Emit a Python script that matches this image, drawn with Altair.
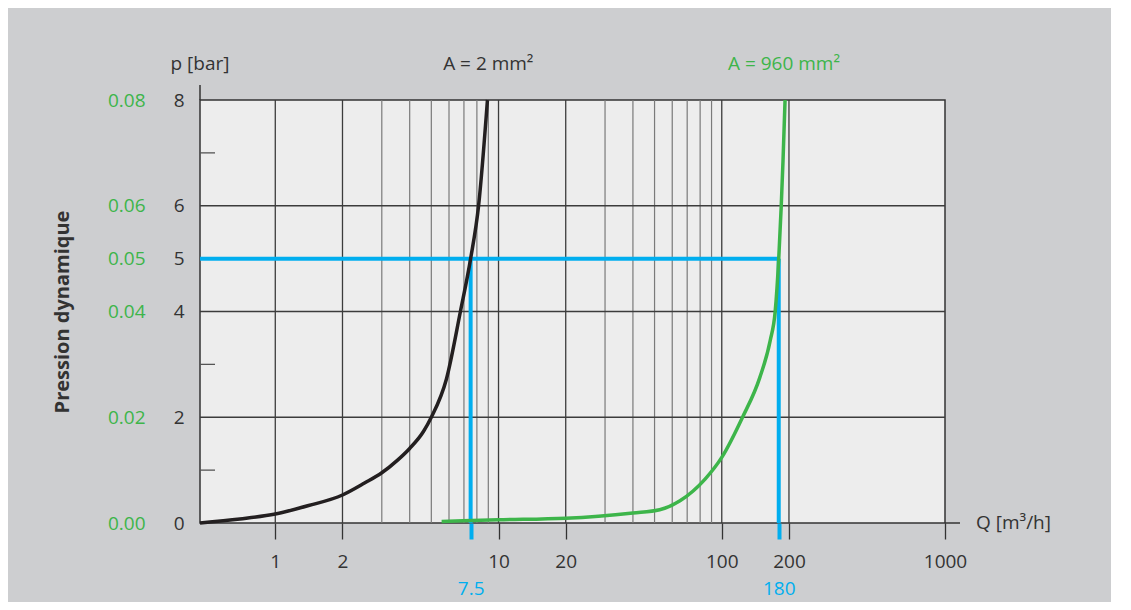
import altair as alt
import pandas as pd

# ---------------- data ----------------
Q_MIN = 0.46
Q_MAX = 1000

q_black = [0.46, 0.694, 1.0, 1.41, 2.0, 2.51, 3.0, 3.52, 4.0, 4.61, 5.0, 5.84, 6.75, 7.5, 8.14, 8.92]
p_black = [0.0, 0.076, 0.17, 0.33, 0.53, 0.755, 0.95, 1.185, 1.41, 1.73, 2.0, 2.72, 4.0, 5.0, 6.0, 8.0]

q_green = [5.56, 10, 20, 40, 52.7, 65, 84.2, 100, 123.9, 148, 164.8, 173.5, 180, 184.7, 188.1, 192.1]
p_green = [0.03, 0.06, 0.09, 0.19, 0.25, 0.42, 0.83, 1.24, 2.0, 2.75, 3.45, 4.0, 5.0, 6.0, 6.85, 8.0]

x_tick_values = [1, 2, 10, 20, 100, 200, 1000]
x_grid_major = [1, 2, 10, 20, 100, 200]
x_grid_minor = [3, 4, 5, 6, 7, 8, 9, 30, 40, 50, 60, 70, 80, 90]
y_tick_values = [0, 2, 4, 5, 6, 8]
y_grid = [2, 4, 6]
y_minor = [1, 3, 7]

op_q = [7.5, 180]
op_p = 5

curve_labels = ["A = 2 mm²", "A = 960 mm²"]
curve_label_q = [9, 190]

# ---------------- style ----------------
FONT = "Open Sans"
INK = "#333333"
GRID_MAJOR = "#3c3c3c"
GRID_MINOR = "#7a7a7a"
GREEN = "#3db54a"
BLUE = "#00aeef"
BLACK = "#231f20"
W, H = 745, 423

xs = alt.Scale(type="log", domain=[Q_MIN, Q_MAX], nice=False)
ys = alt.Scale(domain=[0, 8], nice=False)

def X(field, axis=None):
    return alt.X(field, type="quantitative", scale=xs, axis=axis)

def Y(field, axis=None):
    return alt.Y(field, type="quantitative", scale=ys, axis=axis)

# gridlines
grid_minor = alt.Chart(pd.DataFrame({"Q": x_grid_minor})).mark_rule(
    color=GRID_MINOR, strokeWidth=1.2).encode(x=X("Q"))
grid_major = alt.Chart(pd.DataFrame({"Q": x_grid_major})).mark_rule(
    color=GRID_MAJOR, strokeWidth=1.3).encode(x=X("Q"))
grid_h = alt.Chart(pd.DataFrame({"p": y_grid})).mark_rule(
    color=GRID_MAJOR, strokeWidth=1.3).encode(y=Y("p"))
minor_ticks = alt.Chart(pd.DataFrame({"p": y_minor})).mark_rule(
    color="#555555", strokeWidth=1.3).encode(y=Y("p"), x=alt.value(0), x2=alt.value(15))

# axis extensions
ext_df = pd.DataFrame({"k": [0]})
ext_left = alt.Chart(ext_df).mark_rule(color=INK, strokeWidth=1.5).encode(
    x=alt.value(0), y=alt.value(-15), y2=alt.value(0))
ext_bottom = alt.Chart(ext_df).mark_rule(color=INK, strokeWidth=1.5).encode(
    x=alt.value(W), x2=alt.value(W + 15), y=alt.value(H))

# blue operating lines
blue_h = alt.Chart(pd.DataFrame({"Q0": [Q_MIN], "Q1": [max(op_q)], "p": [op_p]})).mark_rule(
    color=BLUE, strokeWidth=4).encode(x=X("Q0"), x2="Q1", y=Y("p"))

blue_axis = alt.Axis(values=op_q, title=None, grid=False, domain=False, ticks=True,
                     tickSize=16, tickColor=BLUE, tickWidth=4, labelExpr="datum.value",
                     labelColor=BLUE, labelFont=FONT, labelFontSize=19, labelPadding=40,
                     labelOverlap=False, labelFlush=False, orient="bottom")
green_axis = alt.Axis(values=y_tick_values, title="Pression dynamique", grid=False,
                      domain=False, ticks=False,
                      labelExpr="format(datum.value / 100, '.2f')",
                      labelColor=GREEN, labelFont=FONT, labelFontSize=19, labelPadding=55,
                      titleFont=FONT, titleFontSize=20, titleFontWeight="bold",
                      titleColor=INK, titleX=-138, titleY=H / 2, titleAngle=270,
                      titleAlign="center", titleBaseline="middle", orient="left")
blue_v = alt.Chart(pd.DataFrame({"Q": op_q, "p0": [0, 0], "p1": [op_p, op_p]})).mark_rule(
    color=BLUE, strokeWidth=4).encode(x=X("Q", blue_axis), y=Y("p0", green_axis), y2="p1")

# curves
main_x_axis = alt.Axis(values=x_tick_values, title=None, grid=False, domain=False, ticks=True,
                       tickSize=16, tickColor=INK, tickWidth=1.3, format="d",
                       labelColor=INK, labelFont=FONT, labelFontSize=19, labelPadding=13,
                       labelOverlap=False, labelFlush=False, orient="bottom")
main_y_axis = alt.Axis(values=y_tick_values, title=None, grid=False, domain=False, ticks=False,
                       labelColor=INK, labelFont=FONT, labelFontSize=19, labelPadding=16,
                       orient="left")

black_curve = alt.Chart(pd.DataFrame({"Q": q_black, "p": p_black})).mark_line(
    color=BLACK, strokeWidth=3.5, interpolate="monotone").encode(
    x=X("Q", main_x_axis), y=Y("p", main_y_axis), order="Q:Q")
green_curve = alt.Chart(pd.DataFrame({"Q": q_green, "p": p_green})).mark_line(
    color=GREEN, strokeWidth=3.5, interpolate="monotone").encode(
    x=X("Q"), y=Y("p"), order="Q:Q")

# texts
labels_df = pd.DataFrame({"Q": curve_label_q, "p": [8, 8], "label": curve_labels,
                          "c": [INK, GREEN]})
curve_text = alt.Chart(labels_df).mark_text(
    font=FONT, fontSize=19, dy=-30, baseline="alphabetic", align="center").encode(
    x=X("Q"), y=Y("p"), text="label:N", color=alt.Color("c:N", scale=None))

pbar_text = alt.Chart(pd.DataFrame({"Q": [Q_MIN], "p": [8], "label": ["p [bar]"]})).mark_text(
    font=FONT, fontSize=19, dy=-30, baseline="alphabetic", align="center", color=INK).encode(
    x=X("Q"), y=Y("p"), text="label:N")

q_text = alt.Chart(pd.DataFrame({"Q": [Q_MAX], "p": [0], "label": ["Q [m³/h]"]})).mark_text(
    font=FONT, fontSize=19, dx=31, baseline="middle", align="left", color=INK).encode(
    x=X("Q"), y=Y("p"), text="label:N")

chart = alt.layer(
    grid_minor, grid_major, grid_h, minor_ticks,
    blue_h, blue_v,
    black_curve, green_curve,
    ext_left, ext_bottom,
    curve_text, pbar_text, q_text,
).resolve_axis(x="independent", y="independent").properties(
    width=W, height=H,
    autosize=alt.AutoSizeParams(type="none"),
    padding={"left": 192, "top": 92, "right": 166, "bottom": 79},
    background="#cdced0",
).configure_view(fill="#ededed", stroke=INK, strokeWidth=1.5)

chart.save("out.html", embed_options={"renderer": "svg", "actions": False})
